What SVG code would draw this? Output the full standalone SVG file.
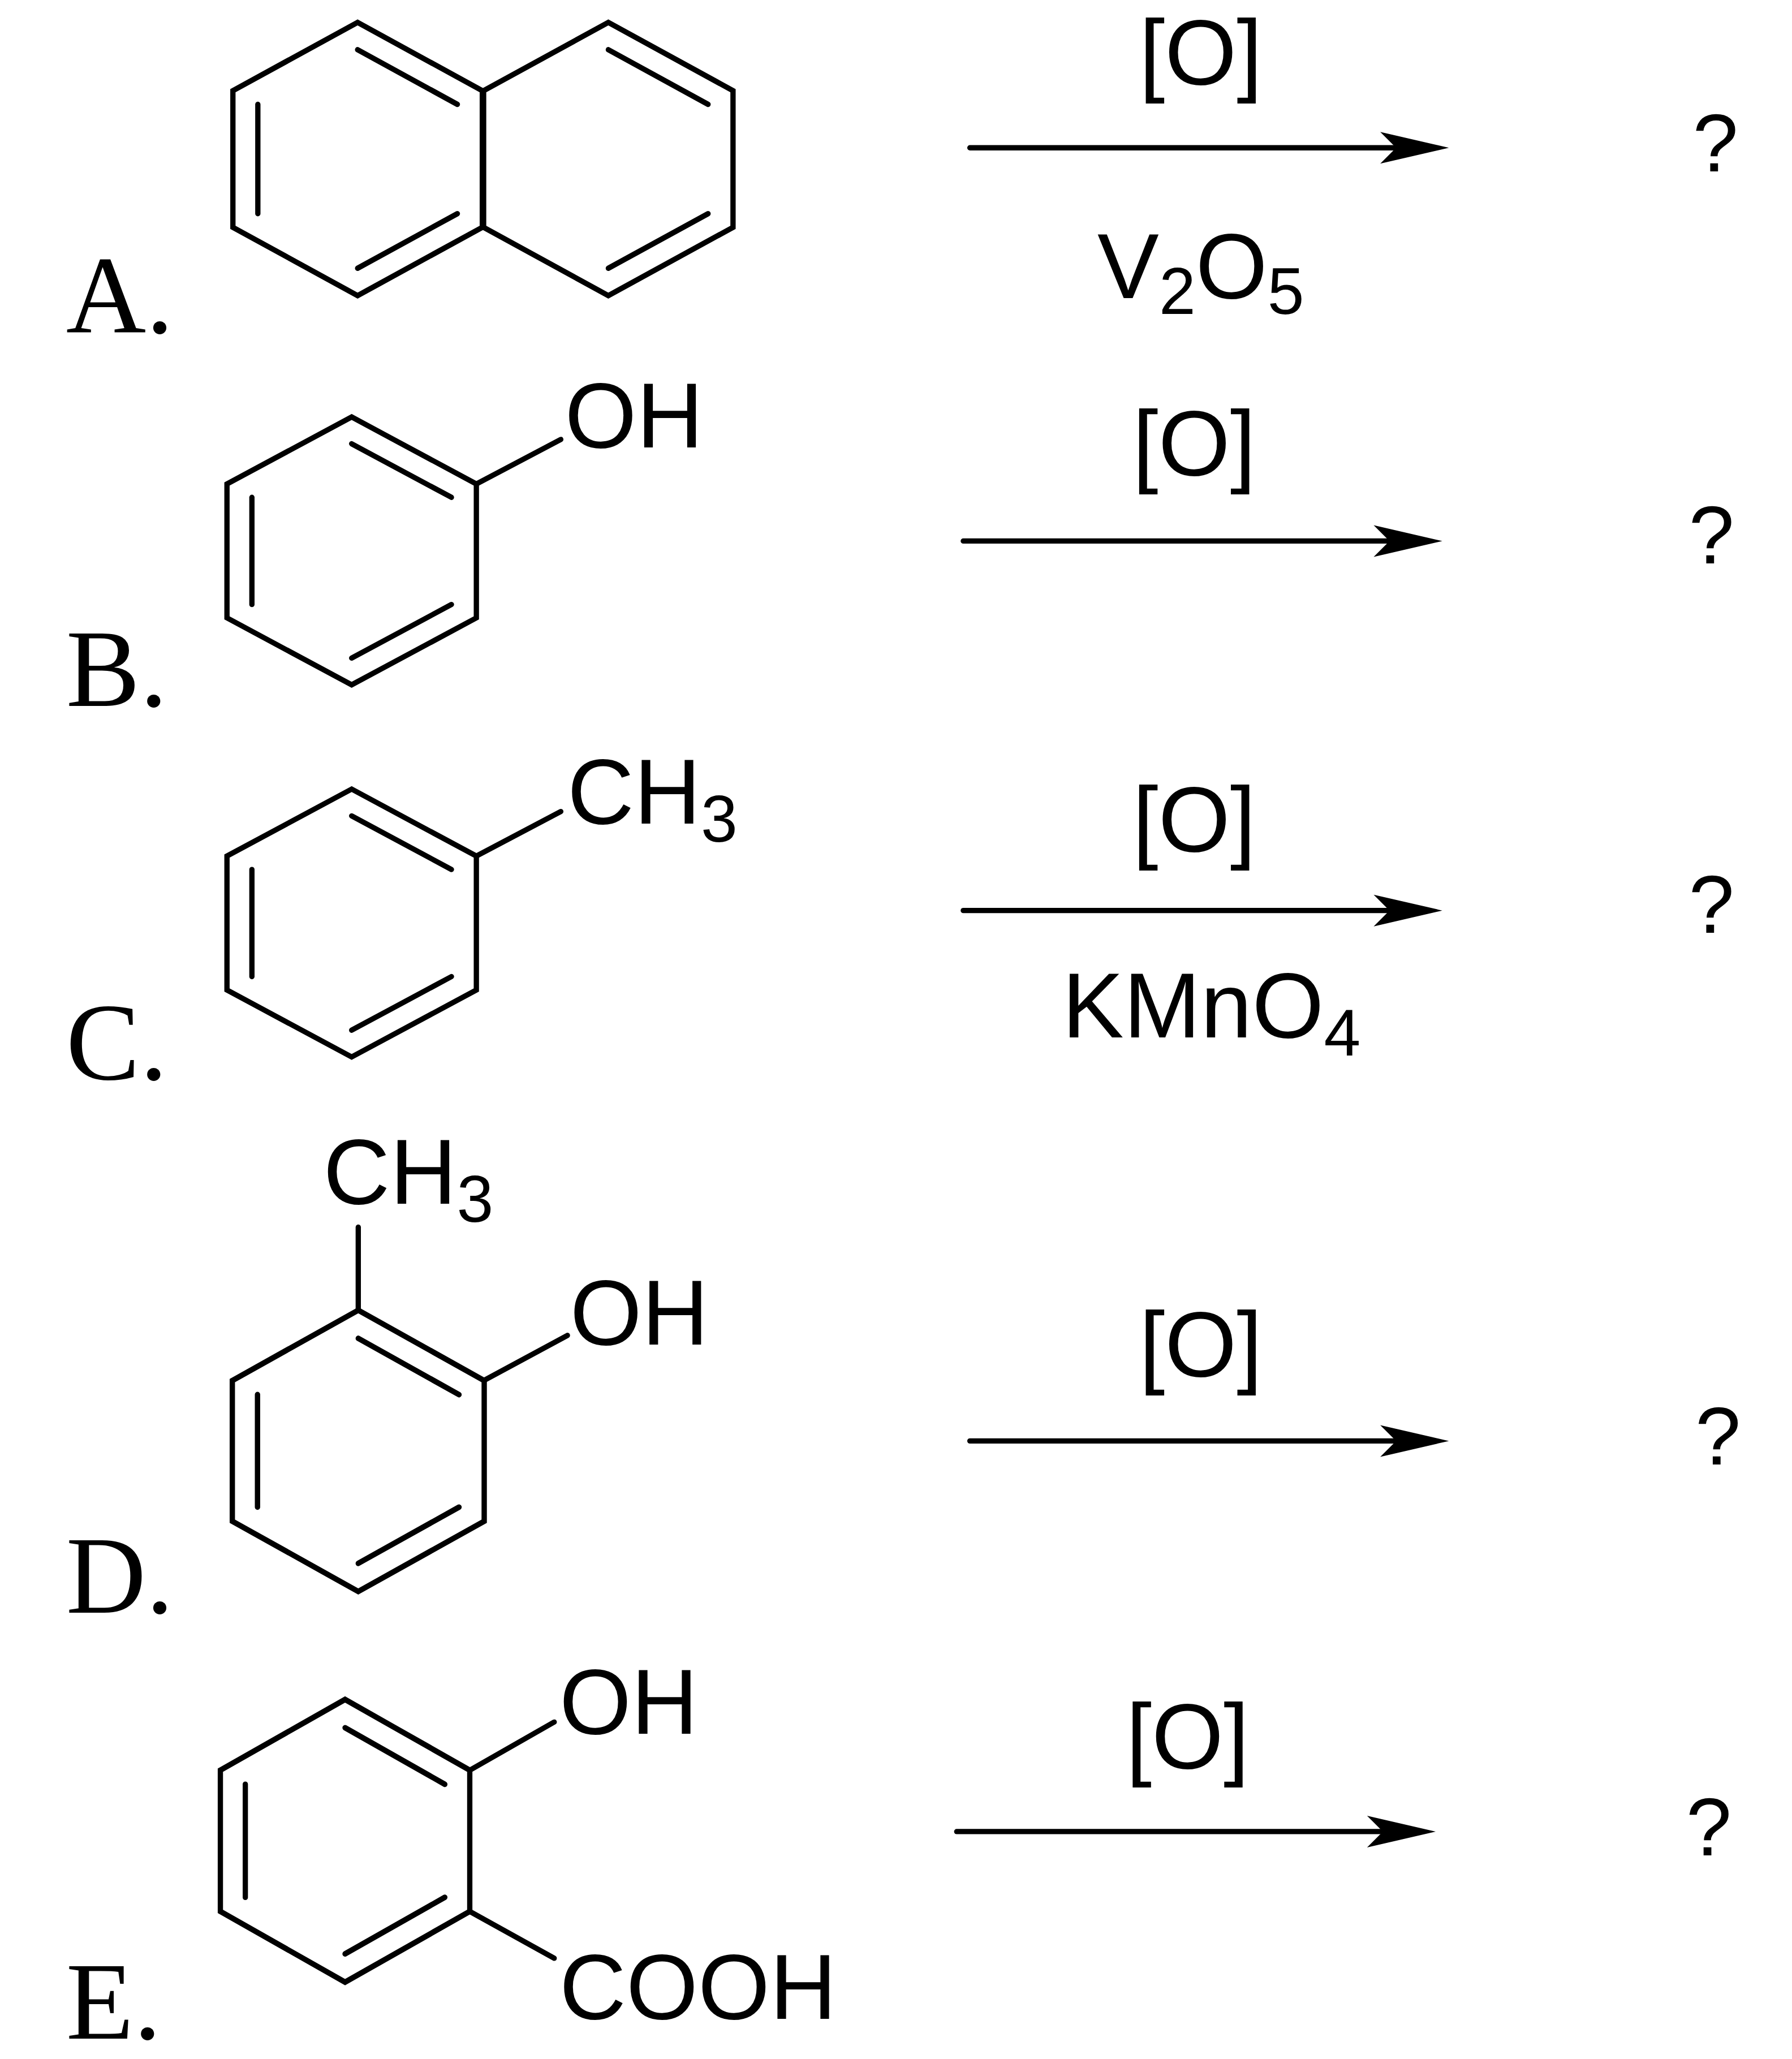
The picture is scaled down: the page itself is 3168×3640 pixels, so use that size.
<svg xmlns="http://www.w3.org/2000/svg" width="3168" height="3640" viewBox="0 0 3168 3640">
<style>
.b{fill:none;stroke:#000;stroke-width:4;stroke-linejoin:miter;stroke-linecap:round}
.t{font-family:"Liberation Sans",Arial,sans-serif;font-size:70px;fill:#000}
.s{font-size:50px}
.q{font-family:"Liberation Sans",Arial,sans-serif;font-size:62px;fill:#000}
.l{font-family:"Liberation Serif","Times New Roman",serif;font-size:84px;fill:#000}
.ah{fill:#000}
</style>
<defs>
<g id="ring">
<polygon class="b" points="0,-101.5 -94.5,-50.75 -94.5,50.75 0,101.5 94.5,50.75 94.5,-50.75"/>
<line class="b" x1="0" y1="-81.2" x2="75.6" y2="-40.6"/>
<line class="b" x1="-75.6" y1="-40.6" x2="-75.6" y2="40.6"/>
<line class="b" x1="0" y1="81.2" x2="75.6" y2="40.6"/>
</g>
</defs>
<rect width="3168" height="3640" fill="#fff"/>
<g transform="scale(2.3328)">
<g id="A">
<g transform="translate(271,120.5) scale(1,1.02)">
<use href="#ring"/>
</g>
<g transform="translate(461,120.5) scale(1,1.02)">
<polygon class="b" points="0,-101.5 -94.5,-50.75 -94.5,50.75 0,101.5 94.5,50.75 94.5,-50.75"/>
<line class="b" x1="0" y1="-81.2" x2="75.6" y2="-40.6"/>
<line class="b" x1="0" y1="81.2" x2="75.6" y2="40.6"/>
</g>
<text class="l" x="50" y="252">A.</text>
</g>
<g id="B">
<use href="#ring" transform="translate(266.5,417.5)"/>
<line class="b" x1="361" y1="366.75" x2="425" y2="333"/>
<text class="t" x="428" y="339">OH</text>
<text class="l" x="50" y="535">B.</text>
</g>
<g id="C">
<use href="#ring" transform="translate(266.5,699.5)"/>
<line class="b" x1="361" y1="648.75" x2="425" y2="615"/>
<text class="t" x="430" y="624">CH<tspan class="s" dy="14">3</tspan></text>
<text class="l" x="50" y="818">C.</text>
</g>
<g id="D">
<g transform="translate(271.5,1099.5) scale(1.01,1.05)"><use href="#ring"/></g>
<line class="b" x1="271.5" y1="993" x2="271.5" y2="930"/>
<text class="t" x="245" y="912">CH<tspan class="s" dy="14">3</tspan></text>
<line class="b" x1="367" y1="1046" x2="430" y2="1012"/>
<text class="t" x="432" y="1019">OH</text>
<text class="l" x="50" y="1222">D.</text>
</g>
<g id="E">
<g transform="translate(261.5,1395) scale(1,1.055)"><use href="#ring"/></g>
<line class="b" x1="356" y1="1341.5" x2="420" y2="1305"/>
<text class="t" x="424" y="1314">OH</text>
<line class="b" x1="356" y1="1448.5" x2="420" y2="1484"/>
<text class="t" x="424" y="1530">COOH</text>
<text class="l" x="50" y="1545">E.</text>
</g>
<g id="connectors">
<line class="b" x1="735" y1="112" x2="1060" y2="112"/>
<path class="ah" d="M1098,112 L1046,100 L1058,112 L1046,124 Z"/>
<line class="b" x1="730" y1="410" x2="1055" y2="410"/>
<path class="ah" d="M1093,410 L1041,398 L1053,410 L1041,422 Z"/>
<line class="b" x1="730" y1="690" x2="1055" y2="690"/>
<path class="ah" d="M1093,690 L1041,678 L1053,690 L1041,702 Z"/>
<line class="b" x1="735" y1="1092" x2="1060" y2="1092"/>
<path class="ah" d="M1098,1092 L1046,1080 L1058,1092 L1046,1104 Z"/>
<line class="b" x1="725" y1="1388" x2="1050" y2="1388"/>
<path class="ah" d="M1088,1388 L1036,1376 L1048,1388 L1036,1400 Z"/>
</g>
<g id="labels">
<text class="t" x="910" y="64" text-anchor="middle">[O]</text>
<text class="t" x="910" y="226" text-anchor="middle">V<tspan class="s" dy="12">2</tspan><tspan dy="-12">O</tspan><tspan class="s" dy="12">5</tspan></text>
<text class="t" x="905" y="360" text-anchor="middle">[O]</text>
<text class="t" x="905" y="645" text-anchor="middle">[O]</text>
<text class="t" x="918" y="786" text-anchor="middle">KMnO<tspan class="s" dy="14">4</tspan></text>
<text class="t" x="910" y="1043" text-anchor="middle">[O]</text>
<text class="t" x="900" y="1340" text-anchor="middle">[O]</text>
<text class="q" x="1300" y="130" text-anchor="middle">?</text>
<text class="q" x="1297" y="427" text-anchor="middle">?</text>
<text class="q" x="1297" y="707" text-anchor="middle">?</text>
<text class="q" x="1302" y="1110" text-anchor="middle">?</text>
<text class="q" x="1295" y="1406" text-anchor="middle">?</text>
</g>
</g>
</svg>
